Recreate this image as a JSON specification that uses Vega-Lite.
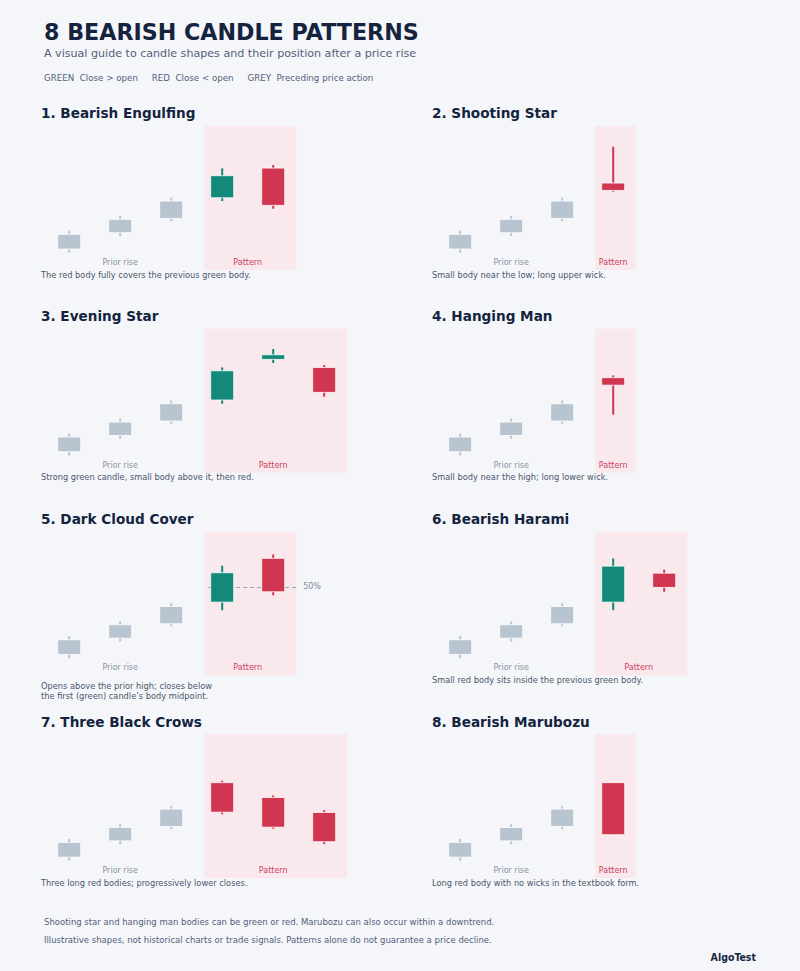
{
  "$schema": "https://vega.github.io/schema/vega-lite/v6.json",
  "background": "#f5f6fa",
  "padding": {"left": 41, "top": 22, "right": 38, "bottom": 5},
  "title": {
    "text": "8 BEARISH CANDLE PATTERNS",
    "subtitle": "A visual guide to candle shapes and their position after a price rise",
    "anchor": "start", "frame": "group", "dx": 3,
    "font": "DejaVu Sans", "fontSize": 22.2, "fontWeight": "bold", "color": "#14243f",
    "subtitleFont": "DejaVu Sans", "subtitleFontSize": 11.1, "subtitleColor": "#52607a", "subtitlePadding": 3,
    "offset": 15
  },
  "spacing": 8,
  "vconcat": [
    {
      "title": {
        "text": "GREEN\u00a0\u00a0Close > open\u00a0\u00a0\u00a0\u00a0\u00a0RED\u00a0\u00a0Close < open\u00a0\u00a0\u00a0\u00a0\u00a0GREY\u00a0\u00a0Preceding price action",
        "anchor": "start", "frame": "group", "dx": 3,
        "font": "DejaVu Sans", "fontSize": 8.7, "fontWeight": "normal", "color": "#52607a", "offset": 25
      },
      "data": {"values": [
        {"panel": "1. Bearish Engulfing", "kind": "candle", "i": 0, "o": 14.6, "c": 24.8, "h": 27.3, "l": 12.0, "tone": "grey"},
        {"panel": "1. Bearish Engulfing", "kind": "candle", "i": 1, "o": 25.9, "c": 35.2, "h": 37.5, "l": 23.6, "tone": "grey"},
        {"panel": "1. Bearish Engulfing", "kind": "candle", "i": 2, "o": 35.9, "c": 47.9, "h": 50.2, "l": 34.0, "tone": "grey"},
        {"panel": "1. Bearish Engulfing", "kind": "candle", "i": 3, "o": 50.2, "c": 65.5, "h": 70.6, "l": 47.9, "tone": "green"},
        {"panel": "1. Bearish Engulfing", "kind": "candle", "i": 4, "o": 70.8, "c": 44.9, "h": 72.9, "l": 42.6, "tone": "red"},
        {"panel": "1. Bearish Engulfing", "kind": "zone", "from": 3, "to": 4},
        {"panel": "1. Bearish Engulfing", "kind": "label", "label": "Prior rise", "at": 1},
        {"panel": "1. Bearish Engulfing", "kind": "label", "label": "Pattern", "at": 3.5},
        {"panel": "1. Bearish Engulfing", "kind": "caption", "caption": "The red body fully covers the previous green body."},

        {"panel": "2. Shooting Star", "kind": "candle", "i": 0, "o": 14.6, "c": 24.8, "h": 27.3, "l": 12.0, "tone": "grey"},
        {"panel": "2. Shooting Star", "kind": "candle", "i": 1, "o": 25.9, "c": 35.2, "h": 37.5, "l": 23.6, "tone": "grey"},
        {"panel": "2. Shooting Star", "kind": "candle", "i": 2, "o": 35.9, "c": 47.9, "h": 50.2, "l": 34.0, "tone": "grey"},
        {"panel": "2. Shooting Star", "kind": "candle", "i": 3, "o": 60.4, "c": 55.3, "h": 85.6, "l": 54.4, "tone": "red"},
        {"panel": "2. Shooting Star", "kind": "zone", "from": 3, "to": 3},
        {"panel": "2. Shooting Star", "kind": "label", "label": "Prior rise", "at": 1},
        {"panel": "2. Shooting Star", "kind": "label", "label": "Pattern", "at": 3},
        {"panel": "2. Shooting Star", "kind": "caption", "caption": "Small body near the low; long upper wick."},

        {"panel": "3. Evening Star", "kind": "candle", "i": 0, "o": 14.6, "c": 24.8, "h": 27.3, "l": 12.0, "tone": "grey"},
        {"panel": "3. Evening Star", "kind": "candle", "i": 1, "o": 25.9, "c": 35.2, "h": 37.5, "l": 23.6, "tone": "grey"},
        {"panel": "3. Evening Star", "kind": "candle", "i": 2, "o": 35.9, "c": 47.9, "h": 50.2, "l": 34.0, "tone": "grey"},
        {"panel": "3. Evening Star", "kind": "candle", "i": 3, "o": 50.5, "c": 70.8, "h": 73.1, "l": 47.9, "tone": "green"},
        {"panel": "3. Evening Star", "kind": "candle", "i": 4, "o": 78.7, "c": 81.9, "h": 85.9, "l": 76.2, "tone": "green"},
        {"panel": "3. Evening Star", "kind": "candle", "i": 5, "o": 73.1, "c": 55.8, "h": 74.8, "l": 52.8, "tone": "red"},
        {"panel": "3. Evening Star", "kind": "zone", "from": 3, "to": 5},
        {"panel": "3. Evening Star", "kind": "label", "label": "Prior rise", "at": 1},
        {"panel": "3. Evening Star", "kind": "label", "label": "Pattern", "at": 4},
        {"panel": "3. Evening Star", "kind": "caption", "caption": "Strong green candle, small body above it, then red."},

        {"panel": "4. Hanging Man", "kind": "candle", "i": 0, "o": 14.6, "c": 24.8, "h": 27.3, "l": 12.0, "tone": "grey"},
        {"panel": "4. Hanging Man", "kind": "candle", "i": 1, "o": 25.9, "c": 35.2, "h": 37.5, "l": 23.6, "tone": "grey"},
        {"panel": "4. Hanging Man", "kind": "candle", "i": 2, "o": 35.9, "c": 47.9, "h": 50.2, "l": 34.0, "tone": "grey"},
        {"panel": "4. Hanging Man", "kind": "candle", "i": 3, "o": 66.0, "c": 60.8, "h": 67.6, "l": 40.3, "tone": "red"},
        {"panel": "4. Hanging Man", "kind": "zone", "from": 3, "to": 3},
        {"panel": "4. Hanging Man", "kind": "label", "label": "Prior rise", "at": 1},
        {"panel": "4. Hanging Man", "kind": "label", "label": "Pattern", "at": 3},
        {"panel": "4. Hanging Man", "kind": "caption", "caption": "Small body near the high; long lower wick."},

        {"panel": "5. Dark Cloud Cover", "kind": "candle", "i": 0, "o": 14.6, "c": 24.8, "h": 27.3, "l": 12.0, "tone": "grey"},
        {"panel": "5. Dark Cloud Cover", "kind": "candle", "i": 1, "o": 25.9, "c": 35.2, "h": 37.5, "l": 23.6, "tone": "grey"},
        {"panel": "5. Dark Cloud Cover", "kind": "candle", "i": 2, "o": 35.9, "c": 47.9, "h": 50.2, "l": 34.0, "tone": "grey"},
        {"panel": "5. Dark Cloud Cover", "kind": "candle", "i": 3, "o": 50.9, "c": 71.3, "h": 76.2, "l": 45.3, "tone": "green"},
        {"panel": "5. Dark Cloud Cover", "kind": "candle", "i": 4, "o": 81.3, "c": 58.1, "h": 84.0, "l": 55.6, "tone": "red"},
        {"panel": "5. Dark Cloud Cover", "kind": "zone", "from": 3, "to": 4},
        {"panel": "5. Dark Cloud Cover", "kind": "mid", "from": 3, "to": 4, "level": 61.1, "tag": "50%"},
        {"panel": "5. Dark Cloud Cover", "kind": "label", "label": "Prior rise", "at": 1},
        {"panel": "5. Dark Cloud Cover", "kind": "label", "label": "Pattern", "at": 3.5},
        {"panel": "5. Dark Cloud Cover", "kind": "longcaption", "caption": "Opens above the prior high; closes below\nthe first (green) candle\u2019s body midpoint."},

        {"panel": "6. Bearish Harami", "kind": "candle", "i": 0, "o": 14.6, "c": 24.8, "h": 27.3, "l": 12.0, "tone": "grey"},
        {"panel": "6. Bearish Harami", "kind": "candle", "i": 1, "o": 25.9, "c": 35.2, "h": 37.5, "l": 23.6, "tone": "grey"},
        {"panel": "6. Bearish Harami", "kind": "candle", "i": 2, "o": 35.9, "c": 47.9, "h": 50.2, "l": 34.0, "tone": "grey"},
        {"panel": "6. Bearish Harami", "kind": "candle", "i": 3, "o": 50.9, "c": 75.9, "h": 81.3, "l": 45.3, "tone": "green"},
        {"panel": "6. Bearish Harami", "kind": "candle", "i": 4, "o": 71.0, "c": 61.1, "h": 73.4, "l": 58.1, "tone": "red"},
        {"panel": "6. Bearish Harami", "kind": "zone", "from": 3, "to": 4},
        {"panel": "6. Bearish Harami", "kind": "label", "label": "Prior rise", "at": 1},
        {"panel": "6. Bearish Harami", "kind": "label", "label": "Pattern", "at": 3.5},
        {"panel": "6. Bearish Harami", "kind": "caption", "caption": "Small red body sits inside the previous green body."},

        {"panel": "7. Three Black Crows", "kind": "candle", "i": 0, "o": 14.6, "c": 24.8, "h": 27.3, "l": 12.0, "tone": "grey"},
        {"panel": "7. Three Black Crows", "kind": "candle", "i": 1, "o": 25.9, "c": 35.2, "h": 37.5, "l": 23.6, "tone": "grey"},
        {"panel": "7. Three Black Crows", "kind": "candle", "i": 2, "o": 35.9, "c": 47.9, "h": 50.2, "l": 34.0, "tone": "grey"},
        {"panel": "7. Three Black Crows", "kind": "candle", "i": 3, "o": 66.3, "c": 45.8, "h": 67.6, "l": 44.4, "tone": "red"},
        {"panel": "7. Three Black Crows", "kind": "candle", "i": 4, "o": 56.0, "c": 35.4, "h": 57.4, "l": 34.3, "tone": "red"},
        {"panel": "7. Three Black Crows", "kind": "candle", "i": 5, "o": 45.6, "c": 25.3, "h": 47.2, "l": 23.6, "tone": "red"},
        {"panel": "7. Three Black Crows", "kind": "zone", "from": 3, "to": 5},
        {"panel": "7. Three Black Crows", "kind": "label", "label": "Prior rise", "at": 1},
        {"panel": "7. Three Black Crows", "kind": "label", "label": "Pattern", "at": 4},
        {"panel": "7. Three Black Crows", "kind": "caption", "caption": "Three long red bodies; progressively lower closes."},

        {"panel": "8. Bearish Marubozu", "kind": "candle", "i": 0, "o": 14.6, "c": 24.8, "h": 27.3, "l": 12.0, "tone": "grey"},
        {"panel": "8. Bearish Marubozu", "kind": "candle", "i": 1, "o": 25.9, "c": 35.2, "h": 37.5, "l": 23.6, "tone": "grey"},
        {"panel": "8. Bearish Marubozu", "kind": "candle", "i": 2, "o": 35.9, "c": 47.9, "h": 50.2, "l": 34.0, "tone": "grey"},
        {"panel": "8. Bearish Marubozu", "kind": "candle", "i": 3, "o": 66.3, "c": 30.2, "h": 66.3, "l": 30.2, "tone": "red"},
        {"panel": "8. Bearish Marubozu", "kind": "zone", "from": 3, "to": 3},
        {"panel": "8. Bearish Marubozu", "kind": "label", "label": "Prior rise", "at": 1},
        {"panel": "8. Bearish Marubozu", "kind": "label", "label": "Pattern", "at": 3},
        {"panel": "8. Bearish Marubozu", "kind": "caption", "caption": "Long red body with no wicks in the textbook form."}
      ]},
      "facet": {
        "field": "panel", "type": "nominal", "title": null,
        "header": {
          "labelAnchor": "start", "labelAlign": "left", "labelFont": "DejaVu Sans", "labelFontSize": 13.6,
          "labelFontWeight": "bold", "labelColor": "#14243f", "labelPadding": 5
        }
      },
      "columns": 2,
      "spacing": {"row": 13.7, "column": 61},
      "spec": {
        "width": 330,
        "height": 170,
        "layer": [
          {
            "transform": [{"filter": "datum.kind == 'zone'"}],
            "mark": {"type": "rect", "color": "#f9e9ed", "xOffset": -18, "x2Offset": 23},
            "encoding": {
              "x": {"field": "from", "type": "quantitative", "axis": null, "scale": {"domain": [-0.553, 5.918], "nice": false, "zero": false, "padding": 0}},
              "x2": {"field": "to"},
              "y": {"datum": 0, "type": "quantitative", "axis": null, "scale": {"domain": [-18, 100], "nice": false, "zero": false, "padding": 0}},
              "y2": {"datum": 100}
            }
          },
          {
            "transform": [{"filter": "datum.kind == 'mid'"}],
            "mark": {"type": "rule", "color": "#9aa3b2", "strokeWidth": 1, "strokeDash": [4, 3], "xOffset": -14, "x2Offset": 26},
            "encoding": {
              "x": {"field": "from", "type": "quantitative"},
              "x2": {"field": "to"},
              "y": {"field": "level", "type": "quantitative"}
            }
          },
          {
            "transform": [{"filter": "datum.kind == 'mid'"}],
            "mark": {"type": "text", "align": "left", "baseline": "middle", "dx": 30, "fontSize": 8, "color": "#7d8799"},
            "encoding": {
              "x": {"field": "to", "type": "quantitative"},
              "y": {"field": "level", "type": "quantitative"},
              "text": {"field": "tag"}
            }
          },
          {
            "transform": [{"filter": "datum.kind == 'candle'"}],
            "mark": {"type": "rule", "strokeWidth": 2},
            "encoding": {
              "x": {"field": "i", "type": "quantitative"},
              "y": {"field": "l", "type": "quantitative"},
              "y2": {"field": "h"},
              "color": {"field": "tone", "type": "nominal", "legend": null, "scale": {"domain": ["grey", "green", "red"], "range": ["#b9c4d1", "#13897a", "#d13651"]}}
            }
          },
          {
            "transform": [{"filter": "datum.kind == 'candle'"}],
            "mark": {"type": "bar", "width": 23, "stroke": "#ffffff", "strokeWidth": 1, "strokeOpacity": 0.75},
            "encoding": {
              "x": {"field": "i", "type": "quantitative"},
              "y": {"field": "o", "type": "quantitative"},
              "y2": {"field": "c"},
              "fill": {"field": "tone", "type": "nominal", "legend": null, "scale": {"domain": ["grey", "green", "red"], "range": ["#b9c4d1", "#13897a", "#d13651"]}}
            }
          },
          {
            "transform": [{"filter": "datum.kind == 'label'"}],
            "mark": {"type": "text", "align": "center", "baseline": "alphabetic", "fontSize": 8},
            "encoding": {
              "x": {"field": "at", "type": "quantitative"},
              "y": {"datum": 3.5, "type": "quantitative"},
              "text": {"field": "label"},
              "color": {"condition": {"test": "datum.label == 'Pattern'", "value": "#c9415c"}, "value": "#8a94a6"}
            }
          },
          {
            "transform": [{"filter": "datum.kind == 'caption'"}],
            "mark": {"type": "text", "align": "left", "baseline": "top", "fontSize": 8.25, "lineHeight": 9.5, "lineBreak": "\n", "color": "#4a566b"},
            "encoding": {
              "x": {"value": 0},
              "y": {"datum": -0.3, "type": "quantitative"},
              "text": {"field": "caption"}
            }
          },
          {
            "transform": [{"filter": "datum.kind == 'longcaption'"}],
            "mark": {"type": "text", "align": "left", "baseline": "top", "fontSize": 8.25, "lineHeight": 9.5, "lineBreak": "\n", "color": "#4a566b"},
            "encoding": {
              "x": {"value": 0},
              "y": {"datum": -4.6, "type": "quantitative"},
              "text": {"field": "caption"}
            }
          }
        ]
      }
    },
    {
      "width": 715,
      "height": 54,
      "data": {"values": [
        {"n": 1, "note": "Shooting star and hanging man bodies can be green or red. Marubozu can also occur within a downtrend."},
        {"n": 2, "note": "Illustrative shapes, not historical charts or trade signals. Patterns alone do not guarantee a price decline."}
      ]},
      "layer": [
        {
          "mark": {"type": "text", "align": "left", "baseline": "middle", "dx": 3, "font": "DejaVu Sans", "fontSize": 8.5, "color": "#52607a"},
          "encoding": {
            "x": {"value": 0},
            "y": {"field": "n", "type": "ordinal", "axis": null, "scale": {"domain": [1, 2, 3]}},
            "text": {"field": "note"}
          }
        },
        {
          "data": {"values": [{"n": 3, "brand": "AlgoTest"}]},
          "mark": {"type": "text", "align": "right", "baseline": "middle", "font": "DejaVu Sans Condensed", "fontWeight": "bold", "fontSize": 10.5, "color": "#14243f"},
          "encoding": {
            "x": {"value": "width"},
            "y": {"field": "n", "type": "ordinal", "axis": null, "scale": {"domain": [1, 2, 3]}},
            "text": {"field": "brand"}
          }
        }
      ]
    }
  ],
  "config": {
    "view": {"stroke": null},
    "font": "DejaVu Sans"
  }
}
